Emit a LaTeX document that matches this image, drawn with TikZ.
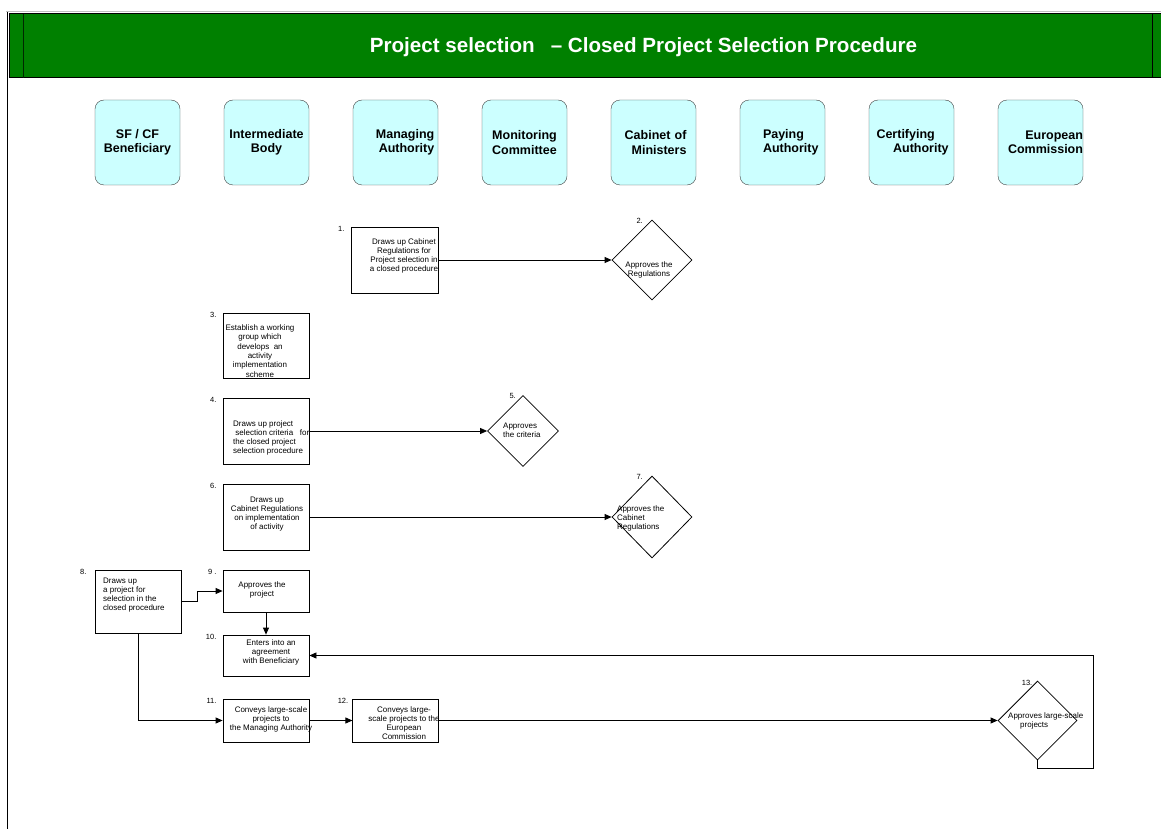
\documentclass[tikz,border=0pt]{standalone}
\usepackage{fontspec}
\setmainfont{Liberation Sans}
\usepackage{tikz}
\usetikzlibrary{shapes.geometric, arrows.meta, positioning}
\usepackage{xcolor}
\definecolor{bandgreen}{RGB}{0,128,0}
\definecolor{lanecyan}{RGB}{204,255,255}
\tikzstyle{lane} = [draw=black!75, fill=lanecyan, rounded corners=9pt, minimum width=85pt, minimum height=85pt, inner sep=0pt, align=center, font=\fontsize{12.5}{14.5}\selectfont\bfseries]
\tikzstyle{proc} = [draw, line width=0.8pt, minimum width=86pt, minimum height=66pt, inner sep=0pt]
\tikzstyle{dec} = [draw, diamond, line width=0.8pt, minimum width=80pt, minimum height=80pt, inner sep=0pt]
\tikzstyle{txt} = [font=\fontsize{8}{9}\selectfont, align=center, inner sep=0pt]
\tikzstyle{num} = [font=\fontsize{7.5}{8}\selectfont, inner sep=0pt, anchor=east, xshift=-6pt, yshift=-2pt]
\tikzstyle{numd} = [font=\fontsize{7.5}{8}\selectfont, inner sep=0pt, anchor=east, xshift=-9pt, yshift=-1pt]
\tikzstyle{arrow} = [line width=0.8pt, -{Triangle[length=7pt,width=6pt]}]

\begin{document}
\begin{tikzpicture}[x=1pt, y=-1pt]
    \useasboundingbox (0,0) rectangle (1161,829);
    % frame and title band
    \draw[gray!50, line width=1.2pt] (6,11.5) -- (1161,11.5);
    \draw[line width=0.8pt] (7,12) -- (7,829);
    \draw[fill=bandgreen, line width=1pt] (9,14) rectangle (1161,78);
    \draw[black!70!bandgreen, line width=1pt] (23,14) -- (23,78);
    \draw[line width=1pt] (1152,14) -- (1152,78);
    \node[text=white, font=\fontsize{20.6}{24}\selectfont\bfseries] (title) at (643.5,47) {Project selection\hspace{16pt}-- Closed Project Selection Procedure};

    % swimlane heads
    \node[lane] (sfcf) at (137.5,142.5) {SF / CF\\Beneficiary};
    \node[lane, right=43.6pt of sfcf] (ib) {Intermediate\\Body};
    \node[lane, right=43.6pt of ib, text width=77.6pt, align=right] (ma) {Managing\\Authority};
    \node[lane, right=43.6pt of ma] (mc) {Monitoring\\Committee};
    \node[lane, right=43.6pt of mc, text width=66pt, align=right] (cm) {Cabinet of\\Ministers};
    \node[lane, right=43.6pt of cm, text width=39pt, align=left] (pa) {Paying\\\mbox{Authority}};
    \node[lane, right=43.6pt of pa, text width=70pt, align=left] (ca) {Certifying\\\hspace*{16.6pt}\mbox{Authority}};
    \node[lane, right=43.6pt of ca, text width=85pt, align=right] (ec) {European\\Commission};

    % steps
    \node[proc, minimum width=87pt, label={[num]north west:1.}] (p1) at (394.5,260) {};
    \node[dec, label={[numd]north:2.}] (d2) at (652,260) {};
    \node[proc, minimum height=65pt, label={[num]north west:3.}] (p3) at (266,345.5) {};
    \node[proc, label={[num]north west:4.}] (p4) at (266,431) {};
    \node[dec, minimum width=71pt, minimum height=71pt, label={[numd, xshift=2pt]north:5.}] (d5) at (523,431) {};
    \node[proc, label={[num]north west:6.}] (p6) at (266,517) {};
    \node[dec, minimum height=82pt, label={[numd]north:7.}] (d7) at (652,517) {};
    \node[proc, minimum height=63pt, label={[num, xshift=-2pt]north west:8.}] (p8) at (138,601.5) {};
    \node[proc, minimum height=42pt, label={[num]north west:9 .}] (p9) at (266,591) {};
    \node[proc, minimum height=41pt, label={[num]north west:10.}] (p10) at (266,655.5) {};
    \node[proc, minimum height=43pt, label={[num]north west:11.}] (p11) at (266,720.5) {};
    \node[proc, minimum height=43pt, right=43pt of p11, label={[num, xshift=2pt]north west:12.}] (p12) {};
    \node[dec, minimum width=79pt, minimum height=79pt, label={[numd, xshift=4pt, yshift=-1pt]north:13.}] (d13) at (1037.5,720.5) {};

    % texts of the steps
    \node[txt] (t1) at (404,256) {Draws up Cabinet\\Regulations for\\Project selection in\\a closed procedure};
    \node[txt] (t2) at (649,270) {Approves the\\Regulations};
    \node[txt, font=\fontsize{8}{9.4}\selectfont] (t3) at (260,351) {Establish a working\\group which\\develops\ \ an\\activity\\implementation\\scheme};
    \node[txt, align=left, anchor=west] (t4) at (233,438) {Draws up project\\ \ selection criteria\ \ \ for\\the closed project\\selection procedure};
    \node[txt, align=left, anchor=west] (t5) at (503,430.5) {Approves\\the criteria};
    \node[txt] (t6) at (267,514) {Draws up\\Cabinet Regulations\\on implementation\\of activity};
    \node[txt, align=left, anchor=west] (t7) at (617,518) {Approves the\\Cabinet\\Regulations};
    \node[txt, align=left, anchor=west] (t8) at (103,595) {Draws up\\a project for\\selection in the\\closed procedure};
    \node[txt] (t9) at (262,590) {Approves the\\project};
    \node[txt] (t10) at (271,652) {Enters into an\\agreement\\with Beneficiary};
    \node[txt] (t11) at (271,719.5) {Conveys large-scale\\projects to\\the Managing Authority};
    \node[txt] (t12) at (404,723.5) {Conveys large-\\scale projects to the\\European\\Commission};
    \node[txt, align=left, anchor=west] (t13) at (1008,721) {Approves large-scale\\\hspace*{12pt}projects};

    \coordinate (back) at (1093,768);

    % flow
    \draw[arrow] (p1.east) -- (d2.west);
    \draw[arrow] (p4.east) -- (d5.west);
    \draw[arrow] (p6.east) -- (d7.west);
    \draw[arrow] (p8.east) -- ++(16,0) |- (p9.west);
    \draw[arrow] (p9.south) -- (p10.north);
    \draw[arrow] (p8.south) |- (p11.west);
    \draw[arrow] (p11.east) -- (p12.west);
    \draw[arrow] (p12.east) -- (d13.west);
    \draw[arrow] (d13.south) |- (back) |- (p10.east);
\end{tikzpicture}
\end{document}
